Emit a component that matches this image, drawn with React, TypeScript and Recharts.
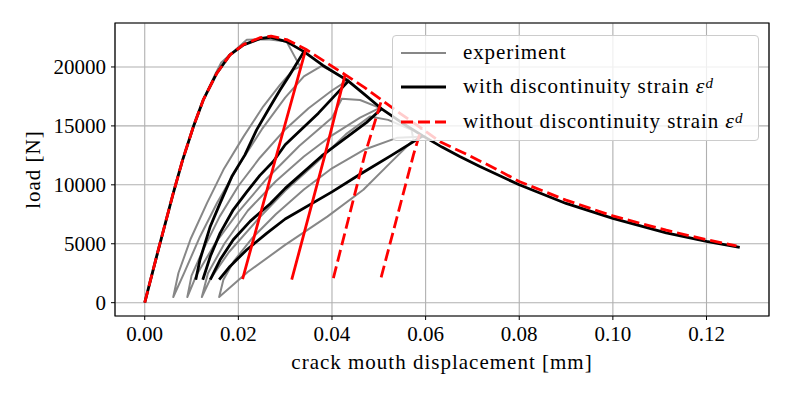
import React from 'react';
import { LineChart, Line, XAxis, YAxis, CartesianGrid, ReferenceArea, Legend } from 'recharts';

// ---------- tick labels ----------
const xTicks = [0, 0.02, 0.04, 0.06, 0.08, 0.1, 0.12];
const yTicks = [0, 5000, 10000, 15000, 20000];

// ---------- experiment (grey), one continuous path ----------
const experiment: number[][] = [
  [0, 0], [0.003, 4500], [0.0061, 9300], [0.0081, 12100], [0.0104, 14900], [0.0125, 17200],
  [0.0152, 19500], [0.0163, 20350], [0.0218, 22300], [0.0262, 22350], [0.0303, 22150], [0.0332, 20030],
  // unload 1
  [0.0317, 19750], [0.0289, 18480], [0.0253, 16640], [0.0211, 14090], [0.0168, 11270], [0.0133, 8450],
  [0.0098, 5400], [0.0072, 2520], [0.0061, 480],
  // reload 1
  [0.0085, 2600], [0.0118, 5600], [0.0155, 8500], [0.02, 11600], [0.025, 14700], [0.03, 17400],
  [0.034, 19200], [0.0378, 20085], [0.0435, 18900],
  // unload 2
  [0.04, 18000], [0.035, 16500], [0.03, 14700], [0.0246, 12300], [0.02, 9900], [0.016, 7300],
  [0.0125, 4500], [0.01, 2300], [0.0091, 480],
  // reload 2
  [0.011, 2300], [0.015, 5000], [0.02, 7700], [0.026, 10500], [0.033, 13300], [0.04, 15700],
  [0.0421, 17300], [0.046, 17200], [0.0502, 16530],
  // unload 3
  [0.046, 15700], [0.04, 14200], [0.034, 12400], [0.028, 10300], [0.022, 7800], [0.017, 5000],
  [0.0135, 2500], [0.0122, 480],
  // reload 3
  [0.014, 2000], [0.018, 4300], [0.024, 7000], [0.03, 9500], [0.037, 12000], [0.043, 14300],
  [0.0481, 15790], [0.052, 15510], [0.057, 14660], [0.0574, 13810],
  // unload 4
  [0.0524, 11840], [0.0467, 9580], [0.039, 7300], [0.03, 4900], [0.022, 2600], [0.0159, 480],
  // reload 4
  [0.0168, 1950], [0.019, 3500], [0.023, 5500], [0.028, 7500], [0.034, 9600], [0.04, 11400],
  [0.047, 13000], [0.054, 14000], [0.06, 14090],
];

// ---------- with discontinuity strain (black) ----------
const withEnvelope: number[][] = [
  [0, 0], [0.0029, 4490], [0.0061, 9300], [0.0081, 12120], [0.0104, 14940], [0.0125, 17200],
  [0.0154, 19470], [0.0182, 21020], [0.0211, 21870], [0.0246, 22400], [0.0268, 22520], [0.0303, 22150],
  [0.034, 21300], [0.038, 20150], [0.0435, 18800], [0.047, 17650], [0.0506, 16450], [0.055, 15250],
  [0.0594, 14150], [0.0635, 13200], [0.0673, 12400], [0.0716, 11550], [0.08, 10000], [0.09, 8420],
  [0.1, 7150], [0.1114, 5930], [0.12, 5200], [0.1271, 4690],
];
const withLoop1: number[][] = [
  [0.0109, 1950], [0.0118, 3640], [0.014, 6470], [0.0161, 8450], [0.0186, 10700], [0.0214, 12540],
  [0.0239, 14660], [0.0268, 16640], [0.0289, 18050], [0.031, 19350], [0.034, 21300],
];
const withLoop2: number[][] = [
  [0.0124, 1950], [0.014, 3920], [0.0161, 5900], [0.0189, 7880], [0.0218, 9400], [0.0246, 10800],
  [0.0275, 12000], [0.03, 13400], [0.0371, 16080], [0.0435, 18800],
];
const withLoop3: number[][] = [
  [0.014, 1950], [0.0161, 3640], [0.0189, 5340], [0.0225, 6900], [0.0268, 8400], [0.03, 9700],
  [0.0378, 12450], [0.0474, 15300], [0.0506, 16450],
];
const withLoop4: number[][] = [
  [0.0159, 1950], [0.0182, 3080], [0.0218, 4490], [0.0261, 5900], [0.03, 7100], [0.04, 9400],
  [0.046, 10900], [0.0527, 12500], [0.0594, 14150],
];

// ---------- without discontinuity strain (red) ----------
const withoutEnvelope: number[][] = [
  [0, 0], [0.0029, 4490], [0.0061, 9300], [0.0081, 12120], [0.0104, 14940], [0.0125, 17200],
  [0.0154, 19470], [0.0182, 21020], [0.0211, 21900], [0.0246, 22480], [0.027, 22620], [0.0303, 22320],
  [0.0344, 21500], [0.0385, 20450], [0.0428, 19350], [0.047, 18250], [0.0506, 17200], [0.0546, 16050],
  [0.0591, 14800], [0.0631, 13650], [0.0687, 12600], [0.075, 11350], [0.08, 10280], [0.09, 8700],
  [0.1, 7360], [0.1114, 6150], [0.12, 5340], [0.1264, 4830],
];
const withoutUnload1: number[][] = [[0.0209, 2000], [0.0278, 12000], [0.0344, 21500]];
const withoutUnload2: number[][] = [[0.0314, 1950], [0.0385, 12540], [0.0428, 19350]];
const withoutUnload3: number[][] = [[0.0403, 2090], [0.047, 12540], [0.0506, 17200]];
const withoutUnload4: number[][] = [[0.0505, 2150], [0.0574, 12540], [0.0591, 14800]];

const legendLabels = ['experiment', 'with discontinuity strain', 'without discontinuity strain'];

// ---------- layout / style ----------
const W = 793;
const H = 397;
const X_DOMAIN: [number, number] = [-0.00635, 0.13335];
const Y_DOMAIN: [number, number] = [-1130, 23730];
const FONT = '"Liberation Serif", "DejaVu Serif", serif';
const GREY = '#878787';
const RED = '#ff0000';
const DASH = '12 5';

const pts = (a: number[][]) => a.map(([x, y]) => ({ x, y }));

const common = {
  type: 'linear' as const,
  dataKey: 'y',
  dot: false,
  activeDot: false,
  isAnimationActive: false,
  legendType: 'none' as const,
  strokeLinejoin: 'round' as const,
};

const Eps = () => (
  <>
    {' '}
    <i style={{ fontSize: 22 }}>ε</i>
    <sup style={{ fontSize: 15, fontStyle: 'italic', verticalAlign: 'top', position: 'relative', top: -3 }}>d</sup>
  </>
);

const LegendBox = () => {
  const rows = [
    { color: GREY, width: 2, dash: undefined as string | undefined, label: legendLabels[0], eps: false },
    { color: '#000', width: 2.8, dash: undefined, label: legendLabels[1], eps: true },
    { color: RED, width: 2.8, dash: DASH, label: legendLabels[2], eps: true },
  ];
  return (
    <div
      style={{
        boxSizing: 'border-box',
        width: 367,
        height: 106,
        border: '1px solid #cccccc',
        borderRadius: 4,
        background: 'rgba(255,255,255,0.8)',
        position: 'relative',
        fontFamily: FONT,
        fontSize: 21,
        color: '#000',
      }}
    >
      {rows.map((r, i) => (
        <div key={i} style={{ position: 'absolute', left: 0, top: 2 + i * 34.3, height: 30, width: 365 }}>
          <svg width={60} height={30} style={{ position: 'absolute', left: 7, top: 0 }}>
            <line x1={1} y1={15} x2={46} y2={15} stroke={r.color} strokeWidth={r.width} strokeDasharray={r.dash} />
          </svg>
          <span
            style={{ position: 'absolute', left: 70, top: 1, whiteSpace: 'nowrap', lineHeight: '26px', letterSpacing: 0.9 }}
          >
            {r.label}
            {r.eps ? <Eps /> : null}
          </span>
        </div>
      ))}
    </div>
  );
};

const YLabel = (props: any) => {
  const cx = 33;
  const cy = 169.5;
  return (
    <text
      x={cx}
      y={cy}
      transform={`rotate(-90, ${cx}, ${cy})`}
      textAnchor="middle"
      dominantBaseline="central"
      fontFamily={FONT}
      fontSize={21}
      letterSpacing={1}
      fill="#000"
    >
      load [N]
    </text>
  );
};

const XLabel = (props: any) => (
  <text
    x={442}
    y={362}
    textAnchor="middle"
    dominantBaseline="central"
    fontFamily={FONT}
    fontSize={21}
    letterSpacing={1}
    fill="#000"
  >
    crack mouth displacement [mm]
  </text>
);

export default function App() {
  return (
    <div style={{ position: 'absolute', left: 0, top: 0, width: W, height: H, background: '#fff' }}>
      <LineChart width={W} height={H} margin={{ top: 23, right: 24, bottom: 0, left: 0 }}>
        <CartesianGrid stroke="#b0b0b0" strokeWidth={1.1} />
        <XAxis
          type="number"
          dataKey="x"
          domain={X_DOMAIN}
          ticks={xTicks}
          allowDataOverflow
          height={81}
          tickSize={4}
          tickMargin={6}
          axisLine={false}
          tickLine={{ stroke: '#000', strokeWidth: 1 }}
          tick={{ fill: '#000', fontSize: 21, fontFamily: FONT }}
          tickFormatter={(v: number) => v.toFixed(2)}
          label={<XLabel />}
        />
        <YAxis
          type="number"
          dataKey="y"
          domain={Y_DOMAIN}
          ticks={yTicks}
          allowDataOverflow
          width={115}
          tickSize={4}
          tickMargin={5}
          axisLine={false}
          tickLine={{ stroke: '#000', strokeWidth: 1 }}
          tick={{ fill: '#000', fontSize: 21, fontFamily: FONT }}
          label={<YLabel />}
        />

        <Line {...common} data={pts(experiment)} stroke={GREY} strokeWidth={2} />

        <Line {...common} data={pts(withEnvelope)} stroke="#000" strokeWidth={2.8} />
        <Line {...common} data={pts(withLoop1)} stroke="#000" strokeWidth={2.8} />
        <Line {...common} data={pts(withLoop2)} stroke="#000" strokeWidth={2.8} />
        <Line {...common} data={pts(withLoop3)} stroke="#000" strokeWidth={2.8} />
        <Line {...common} data={pts(withLoop4)} stroke="#000" strokeWidth={2.8} />

        <Line {...common} data={pts(withoutEnvelope)} stroke={RED} strokeWidth={2.8} strokeDasharray={DASH} />
        <Line {...common} data={pts(withoutUnload1)} stroke={RED} strokeWidth={2.8} />
        <Line {...common} data={pts(withoutUnload2)} stroke={RED} strokeWidth={2.8} />
        <Line {...common} data={pts(withoutUnload3)} stroke={RED} strokeWidth={2.8} strokeDasharray={DASH} />
        <Line {...common} data={pts(withoutUnload4)} stroke={RED} strokeWidth={2.8} strokeDasharray={DASH} />

        <ReferenceArea
          x1={X_DOMAIN[0]}
          x2={X_DOMAIN[1]}
          y1={Y_DOMAIN[0]}
          y2={Y_DOMAIN[1]}
          fill="none"
          fillOpacity={0}
          stroke="#000"
          strokeWidth={1.2}
          ifOverflow="visible"
        />

        <Legend
          layout="vertical"
          align="center"
          verticalAlign="middle"
          content={<LegendBox />}
          wrapperStyle={{ position: 'absolute', left: 392, top: 35, width: 367, height: 106 }}
        />
      </LineChart>
    </div>
  );
}
